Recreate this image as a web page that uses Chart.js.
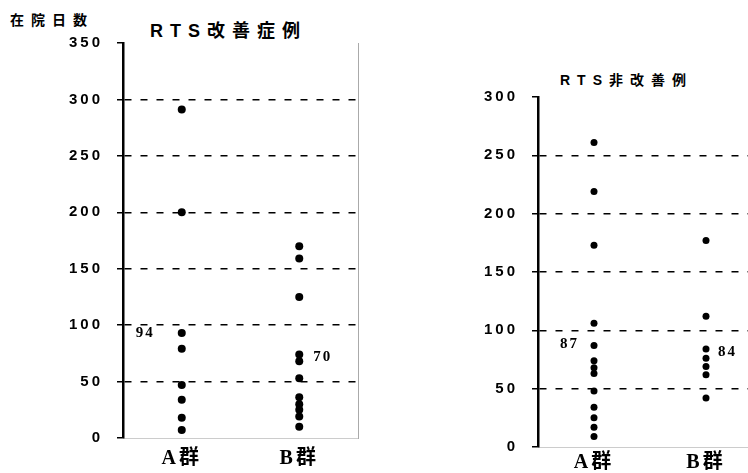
<!DOCTYPE html>
<html>
<head>
<meta charset="utf-8">
<script src="https://cdn.jsdelivr.net/npm/chart.js@4.4.1/dist/chart.umd.min.js"></script>
<style>
  html, body { margin: 0; padding: 0; background: #fff; overflow: hidden; width: 748px; height: 473px; }
  #left-chart { position: absolute; left: 0; top: 0; }
  #right-chart { position: absolute; left: 380px; top: 0; }
  .txt { position: absolute; font-family: 'Liberation Sans', 'Noto Sans CJK JP', sans-serif; font-weight: bold; color: #000; white-space: nowrap; }
  #ylabel { left: 10px; top: 9px; font-size: 14px; letter-spacing: 7px; }
  #title-left { left: 150px; top: 16px; font-size: 18px; letter-spacing: 7px; }
  #title-right { left: 560px; top: 69px; font-size: 14px; letter-spacing: 7px; }
</style>
</head>
<body>
<div class="txt" id="ylabel">在院日数</div>
<div class="txt" id="title-left">RTS改善症例</div>
<div class="txt" id="title-right">RTS非改善例</div>
<canvas id="left-chart" width="380" height="473"></canvas>
<canvas id="right-chart" width="400" height="473"></canvas>
<script>
// groups on the x axis
const groups = ['A群', 'B群'];

// RTS改善症例 (hospital days)
const leftA = [291, 200, 93, 79, 47, 34, 18, 7];
const leftB = [170, 159, 125, 74, 68, 53, 36, 30, 25, 19, 10];
const leftMax = 350;
const leftNoteText = ['94', '70'];
const leftNoteValue = [93, 72];

// RTS非改善例
const rightA = [261, 219, 173, 106, 87, 74, 68, 63, 48, 34, 25, 17, 9];
const rightB = [177, 112, 84, 76, 69, 62, 42];
const rightMax = 300;
const rightNoteText = ['87', '84'];
const rightNoteValue = [88, 81];

const tickFont = { family: "'Liberation Sans', Arial, sans-serif", size: 15, weight: 'bold' };
const catFont = { family: "'Liberation Serif', 'Noto Sans CJK JP', serif", size: 20, weight: 'bold' };

// letter spacing for all canvas text, like the scanned original
const spacingPlugin = {
  id: 'spacing',
  beforeDraw(chart) { chart.ctx.letterSpacing = '3px'; }
};

// small serif numbers beside each group
const notesPlugin = {
  id: 'notes',
  afterDatasetsDraw(chart, args, opts) {
    const ctx = chart.ctx;
    const xs = chart.scales.x, ys = chart.scales.y;
    ctx.save();
    ctx.letterSpacing = '2px';
    ctx.font = "bold 15px 'Liberation Serif', serif";
    ctx.fillStyle = '#000';
    ctx.textBaseline = 'middle';
    opts.texts.forEach(function(t, i) {
      const x = xs.getPixelForValue(i);
      const y = ys.getPixelForValue(opts.values[i]);
      if (i === 0) {
        ctx.textAlign = 'right';
        ctx.fillText(t, x - opts.gapA, y);
      } else {
        ctx.textAlign = 'left';
        ctx.fillText(t, x + opts.gapB, y);
      }
    });
    ctx.restore();
  }
};

function makeChart(canvasId, dataA, dataB, max, cfg) {
  const ctx = document.getElementById(canvasId).getContext('2d');
  return new Chart(ctx, {
    type: 'line',
    data: {
      labels: groups,
      datasets: [
        {
          data: dataA.map(v => ({ x: groups[0], y: v })),
          showLine: false,
          pointRadius: cfg.radius,
          pointBackgroundColor: '#000',
          pointBorderWidth: 0
        },
        {
          data: dataB.map(v => ({ x: groups[1], y: v })),
          showLine: false,
          pointRadius: cfg.radius,
          pointBackgroundColor: '#000',
          pointBorderWidth: 0
        }
      ]
    },
    options: {
      responsive: false,
      animation: false,
      layout: { padding: { left: 0, top: cfg.top, right: cfg.right, bottom: 0 } },
      plugins: {
        legend: { display: false },
        tooltip: { enabled: false },
        notes: cfg.notes
      },
      scales: {
        x: {
          type: 'category',
          offset: true,
          grid: { color: 'transparent', drawTicks: false },
          border: { display: true, color: '#ccc', width: 1 },
          ticks: { color: '#000', font: catFont, padding: cfg.catPad },
          afterFit(scale) { scale.height = cfg.xHeight; }
        },
        y: {
          min: 0,
          max: max,
          ticks: { stepSize: 50, color: '#000', font: tickFont, padding: 14 },
          grid: {
            color: c => (c.tick && (c.tick.value === 0 || c.tick.value === max)) ? 'transparent' : '#000',
            lineWidth: 1.5,
            tickColor: '#000',
            tickLength: 6,
            tickBorderDash: []
          },
          border: { display: true, color: '#000', width: 2.5, dash: [7, 9] },
          afterFit(scale) { scale.width = cfg.yWidth; }
        },
        yr: {
          position: 'right',
          min: 0,
          max: max,
          ticks: { display: false },
          grid: { display: false, drawTicks: false },
          border: { display: cfg.rightBorder, color: '#aaa', width: 1 },
          afterFit(scale) { scale.width = 0; }
        }
      }
    },
    plugins: [spacingPlugin, notesPlugin]
  });
}

makeChart('left-chart', leftA, leftB, leftMax, {
  radius: 4, top: 43, right: 22, xHeight: 35, yWidth: 123, catPad: 9, rightBorder: true,
  notes: { texts: leftNoteText, values: leftNoteValue, gapA: 27, gapB: 14 }
});

makeChart('right-chart', rightA, rightB, rightMax, {
  radius: 3.5, top: 97, right: 18, xHeight: 26, yWidth: 158, catPad: 4, rightBorder: false,
  notes: { texts: rightNoteText, values: rightNoteValue, gapA: 15, gapB: 12 }
});
</script>
</body>
</html>
